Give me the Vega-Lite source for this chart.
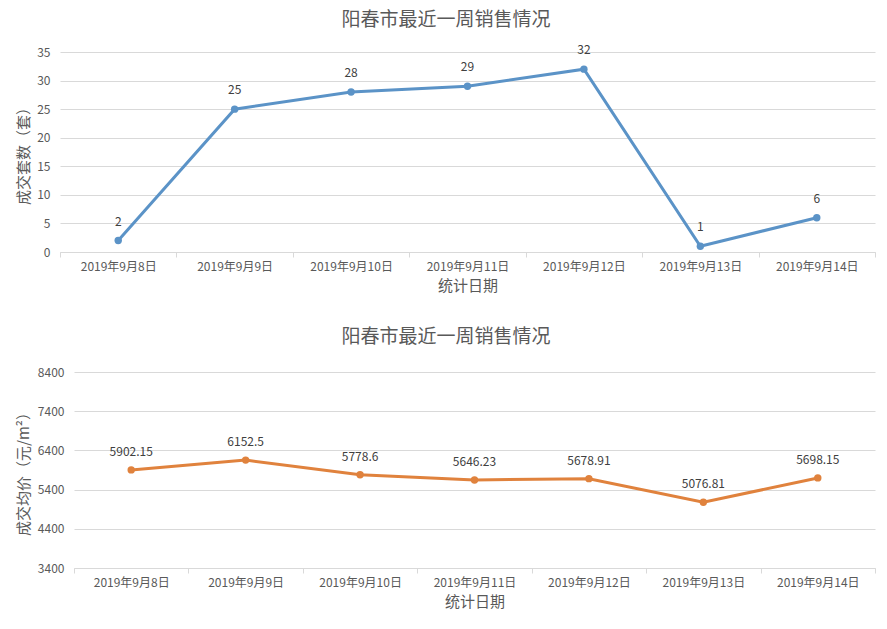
{
  "$schema": "https://vega.github.io/schema/vega-lite/v6.json",
  "data": {"values": [
    {"date": "2019年9月8日", "count": 2, "price": 5902.15},
    {"date": "2019年9月9日", "count": 25, "price": 6152.5},
    {"date": "2019年9月10日", "count": 28, "price": 5778.6},
    {"date": "2019年9月11日", "count": 29, "price": 5646.23},
    {"date": "2019年9月12日", "count": 32, "price": 5678.91},
    {"date": "2019年9月13日", "count": 1, "price": 5076.81},
    {"date": "2019年9月14日", "count": 6, "price": 5698.15}
  ]},
  "config": {
    "font": "Noto Sans CJK SC",
    "view": {"stroke": null},
    "axis": {
      "labelColor": "#595959", "titleColor": "#595959", "labelFontSize": 12,
      "titleFontSize": 15, "titleFontWeight": "normal", "gridColor": "#d9d9d9",
      "domainColor": "#d9d9d9", "tickColor": "#d9d9d9", "labelFont": "Noto Sans CJK SC", "titleFont": "Noto Sans CJK SC"
    },
    "title": {"fontSize": 19, "fontWeight": "normal", "color": "#595959", "anchor": "middle", "frame": "bounds", "font": "Noto Sans CJK SC"}
  },
  "padding": {"left": 16, "top": 11, "right": 5, "bottom": 5},
  "spacing": 35,
  "vconcat": [
    {
      "width": 815, "height": 200,
      "title": {"text": "阳春市最近一周销售情况", "offset": 14},
      "encoding": {
        "x": {"field": "date", "type": "ordinal", "sort": null,
          "scale": {"type": "band", "paddingInner": 0, "paddingOuter": 0},
          "axis": {"title": "统计日期", "labelAngle": 0, "tickBand": "extent", "tickSize": 5, "labelPadding": 4, "titlePadding": 6}},
        "y": {"field": "count", "type": "quantitative", "scale": {"domain": [0, 35]},
          "axis": {"title": "成交套数（套）", "values": [0, 5, 10, 15, 20, 25, 30, 35], "domain": false, "ticks": false, "labelPadding": 10, "titlePadding": 5}}
      },
      "layer": [
        {"mark": {"type": "line", "color": "#5b93c7", "strokeWidth": 3}},
        {"mark": {"type": "point", "filled": true, "color": "#5b93c7", "size": 55, "opacity": 1}},
        {"mark": {"type": "text", "dy": -19, "fontSize": 12, "color": "#404040"},
          "encoding": {"text": {"field": "count", "type": "nominal"}}}
      ]
    },
    {
      "width": 815, "height": 196,
      "title": {"text": "阳春市最近一周销售情况", "offset": 19},
      "encoding": {
        "x": {"field": "date", "type": "ordinal", "sort": null,
          "scale": {"type": "band", "paddingInner": 0, "paddingOuter": 0, "range": [14, 815]},
          "axis": {"title": "统计日期", "labelAngle": 0, "tickBand": "extent", "tickSize": 5, "labelPadding": 4, "titlePadding": 6}},
        "y": {"field": "price", "type": "quantitative", "scale": {"domain": [3400, 8400], "nice": false, "zero": false},
          "axis": {"title": "成交均价（元/m²）", "format": "d", "offset": -14, "values": [3400, 4400, 5400, 6400, 7400, 8400], "domain": false, "ticks": false, "labelPadding": 10, "titlePadding": 6}}
      },
      "layer": [
        {"mark": {"type": "line", "color": "#e0823d", "strokeWidth": 3}},
        {"mark": {"type": "point", "filled": true, "color": "#e0823d", "size": 55, "opacity": 1}},
        {"mark": {"type": "text", "dy": -18, "fontSize": 12, "color": "#404040"},
          "encoding": {"text": {"field": "price", "type": "nominal"}}}
      ]
    }
  ]
}
